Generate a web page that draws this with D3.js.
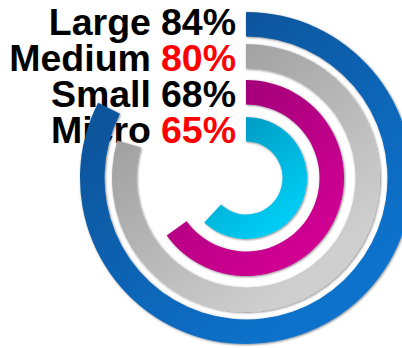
<!DOCTYPE html>
<html><head><meta charset="utf-8">
<script src="https://cdn.jsdelivr.net/npm/d3@7"></script>
<style>html,body{margin:0;padding:0;background:#fff;overflow:hidden}</style>
</head><body>
<svg id="chart" width="402" height="348"></svg>
<script>
const categories = ["Large", "Medium", "Small", "Micro"];
const labelValues = [84, 80, 68, 65];          // printed percentages
const arcValues = [82.5, 79.5, 65, 62];        // arc lengths as drawn in the picture (% of full turn)
const valueColors = ["#000000", "#ff0000", "#000000", "#ff0000"];
const ringDark = ["#0a4e90", "#969696", "#980074", "#0090b8"];
const ringLight = ["#0b72cc", "#cfcfcf", "#cf0092", "#00cbf2"];

const svg = d3.select("#chart");
const cx = 246, cy = 178;
const outerR = [166, 134, 98, 61];
const thick = 24.5;

const defs = svg.append("defs");
const f = defs.append("filter").attr("id", "sh").attr("x", "-20%").attr("y", "-20%").attr("width", "140%").attr("height", "140%");
f.append("feDropShadow").attr("dx", 0.8).attr("dy", 0.8).attr("stdDeviation", 1.3).attr("flood-color", "#000").attr("flood-opacity", 0.5);

categories.forEach((c, i) => {
  const r = outerR[i];
  const g = defs.append("linearGradient").attr("id", "g" + i)
    .attr("gradientUnits", "userSpaceOnUse")
    .attr("x1", -r * 0.8).attr("y1", -r * 0.9)
    .attr("x2", r * 0.5).attr("y2", r * 0.7);
  g.append("stop").attr("offset", "0%").attr("stop-color", ringDark[i]);
  g.append("stop").attr("offset", "100%").attr("stop-color", ringLight[i]);
});

// labels (drawn first; arcs overlap them)
const lab = svg.append("g")
  .attr("font-family", "Liberation Sans, Arial, sans-serif")
  .attr("font-weight", "bold")
  .attr("font-size", 37.5)
  .attr("text-anchor", "end");
const baselines = [35, 71, 107, 143];
const rightX = 236;
categories.forEach((c, i) => {
  const v = lab.append("text")
    .attr("x", rightX).attr("y", baselines[i])
    .attr("fill", valueColors[i])
    .text(labelValues[i] + "%");
  const w = v.node().getComputedTextLength();
  lab.append("text")
    .attr("x", rightX - w - 10).attr("y", baselines[i])
    .attr("fill", "#000")
    .text(c);
});

const angle = d3.scaleLinear().domain([0, 100]).range([0, 2 * Math.PI]);
const arc = d3.arc();
const rings = svg.append("g").attr("transform", `translate(${cx},${cy})`);
rings.selectAll("path").data(arcValues).join("path")
  .attr("d", (d, i) => arc({innerRadius: outerR[i] - thick, outerRadius: outerR[i], startAngle: 0, endAngle: angle(d)}))
  .attr("fill", (d, i) => `url(#g${i})`)
  .attr("filter", "url(#sh)");
</script>
</body></html>
